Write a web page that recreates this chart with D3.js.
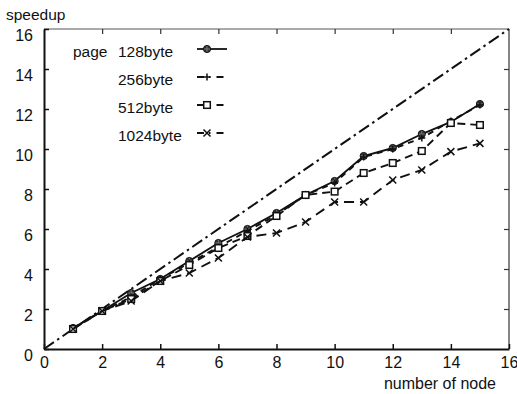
<!DOCTYPE html>
<html>
<head>
<meta charset="utf-8">
<script src="https://cdn.jsdelivr.net/npm/d3@7"></script>
<style>
  body { margin: 0; background: #fff; }
  text { font-family: "Liberation Sans", Arial, sans-serif; fill: #111; }
</style>
</head>
<body>
<script>
// node counts on the x axis
const nodes = [1, 2, 3, 4, 5, 6, 7, 8, 9, 10, 11, 12, 13, 14, 15];

// speedup for each page size
const speed128 = [1.05, 1.9, 2.8, 3.5, 4.4, 5.3, 6.0, 6.8, 7.7, 8.4, 9.65, 10.05, 10.75, 11.35, 12.25];
const speed256 = [1.05, 1.9, 2.6, 3.5, 4.3, 5.1, 5.9, 6.7, 7.7, 8.3, 9.6, 10.0, 10.55, 11.4, 12.2];
const speed512 = [1.0, 1.9, 2.5, 3.4, 4.2, 5.05, 5.65, 6.65, 7.7, 7.87, 8.8, 9.3, 9.9, 11.3, 11.2];
const speed1024 = [1.0, 1.9, 2.4, 3.4, 3.8, 4.55, 5.6, 5.8, 6.35, 7.35, 7.35, 8.45, 8.95, 9.87, 10.28];

// ideal (linear) speedup
const idealX = [0, 16];

const xTicks = [0, 2, 4, 6, 8, 10, 12, 14, 16];
const yTicks = [0, 2, 4, 6, 8, 10, 12, 14, 16];

const W = 517, H = 394;
const mLeft = 44, mTop = 29, mRight = 509, mBottom = 349;

const svg = d3.select('body').append('svg')
  .attr('width', W).attr('height', H);

const x = d3.scaleLinear().domain([0, 16]).range([mLeft, mRight]);
const y = d3.scaleLinear().domain([0, 16]).range([mBottom, mTop]);

// frame: thin top / right, thick left / bottom
svg.append('line').attr('x1', mLeft).attr('x2', mRight).attr('y1', mTop).attr('y2', mTop)
  .attr('stroke', '#555').attr('stroke-width', 1);
svg.append('line').attr('x1', mRight).attr('x2', mRight).attr('y1', mTop).attr('y2', mBottom)
  .attr('stroke', '#333').attr('stroke-width', 1.2);

// ticks on all four sides, pointing inward
const tick = 5;
const axB = svg.append('g').attr('transform', `translate(0,${mBottom})`)
  .call(d3.axisBottom(x).tickValues(xTicks).tickSize(-tick).tickPadding(14).tickSizeOuter(0));
const axL = svg.append('g').attr('transform', `translate(${mLeft},0)`)
  .call(d3.axisLeft(y).tickValues(yTicks).tickSize(-tick).tickPadding(11).tickSizeOuter(0));
const axT = svg.append('g').attr('transform', `translate(0,${mTop})`)
  .call(d3.axisTop(x).tickValues(xTicks.slice(1, -1)).tickSize(-tick).tickFormat('').tickSizeOuter(0));
const axR = svg.append('g').attr('transform', `translate(${mRight},0)`)
  .call(d3.axisRight(y).tickValues(yTicks.slice(1, -1)).tickSize(-tick).tickFormat('').tickSizeOuter(0));

[axB, axL].forEach(g => {
  g.select('.domain').attr('stroke', '#111').attr('stroke-width', 2);
  g.selectAll('.tick line').attr('stroke', '#111').attr('stroke-width', 1.5);
  g.selectAll('.tick text').style('font-size', '16px').attr('fill', '#111');
});
[axT, axR].forEach(g => {
  g.select('.domain').remove();
  g.selectAll('.tick line').attr('stroke', '#333').attr('stroke-width', 1.2);
});
axL.selectAll('.tick text').attr('dy', '0.72em');
axB.selectAll('.tick text').attr('dy', '0.3em');

// axis titles
svg.append('text').attr('x', 6).attr('y', 20).style('font-size', '15.5px').text('speedup');
svg.append('text').attr('x', 496).attr('y', 389).attr('text-anchor', 'end')
  .style('font-size', '16px').text('number of node');

const line = d3.line().x(d => x(d[0])).y(d => y(d[1]));

// ideal line
svg.append('path')
  .attr('d', line(idealX.map(v => [v, v])))
  .attr('fill', 'none').attr('stroke', '#111').attr('stroke-width', 2)
  .attr('stroke-dasharray', '12,4,2.5,4');

const series = [
  { name: '128byte', vals: speed128, dash: null, mark: 'diamond' },
  { name: '256byte', vals: speed256, dash: '6,5', mark: 'plus' },
  { name: '512byte', vals: speed512, dash: '8,5', mark: 'square' },
  { name: '1024byte', vals: speed1024, dash: '10,6', mark: 'cross' }
];

function drawMark(g, type, cx, cy) {
  const s = 3.5;
  if (type === 'diamond') {
    g.append('circle').attr('cx', cx).attr('cy', cy).attr('r', 3.6)
      .attr('fill', '#333').attr('stroke', '#111').attr('stroke-width', 1);
    g.append('path').attr('d', `M${cx - 3},${cy}L${cx + 3},${cy}M${cx},${cy - 3}L${cx},${cy + 3}`)
      .attr('stroke', '#888').attr('stroke-width', 0.8);
  } else if (type === 'plus') {
    g.append('path').attr('d', `M${cx - s},${cy}L${cx + s},${cy}M${cx},${cy - s}L${cx},${cy + s}`)
      .attr('stroke', '#111').attr('stroke-width', 1.5);
  } else if (type === 'square') {
    g.append('rect').attr('x', cx - 3.3).attr('y', cy - 3.3).attr('width', 6.6).attr('height', 6.6)
      .attr('fill', '#fff').attr('stroke', '#111').attr('stroke-width', 1.5);
  } else {
    g.append('path').attr('d', `M${cx - s},${cy - s}L${cx + s},${cy + s}M${cx - s},${cy + s}L${cx + s},${cy - s}`)
      .attr('stroke', '#111').attr('stroke-width', 1.5);
  }
}

series.forEach(s => {
  const pts = nodes.map((n, i) => [n, s.vals[i]]);
  svg.append('path')
    .attr('d', line(pts))
    .attr('fill', 'none').attr('stroke', '#111').attr('stroke-width', 1.9)
    .attr('stroke-dasharray', s.dash);
  const g = svg.append('g');
  pts.forEach(p => drawMark(g, s.mark, x(p[0]), y(p[1])));
});

// legend
svg.append('text').attr('x', 73).attr('y', 57).style('font-size', '15.5px').text('page');
series.forEach((s, i) => {
  const by = 57 + i * 28;
  svg.append('text').attr('x', 118).attr('y', by).style('font-size', '15.5px').text(s.name);
  const ly = by - 8;
  svg.append('line').attr('x1', 197).attr('x2', 227).attr('y1', ly).attr('y2', ly)
    .attr('stroke', '#111').attr('stroke-width', 1.8)
    .attr('stroke-dasharray', s.dash ? '7,5,1.5,6' : null);
  drawMark(svg, s.mark, 207, ly);
});
</script>
</body>
</html>
